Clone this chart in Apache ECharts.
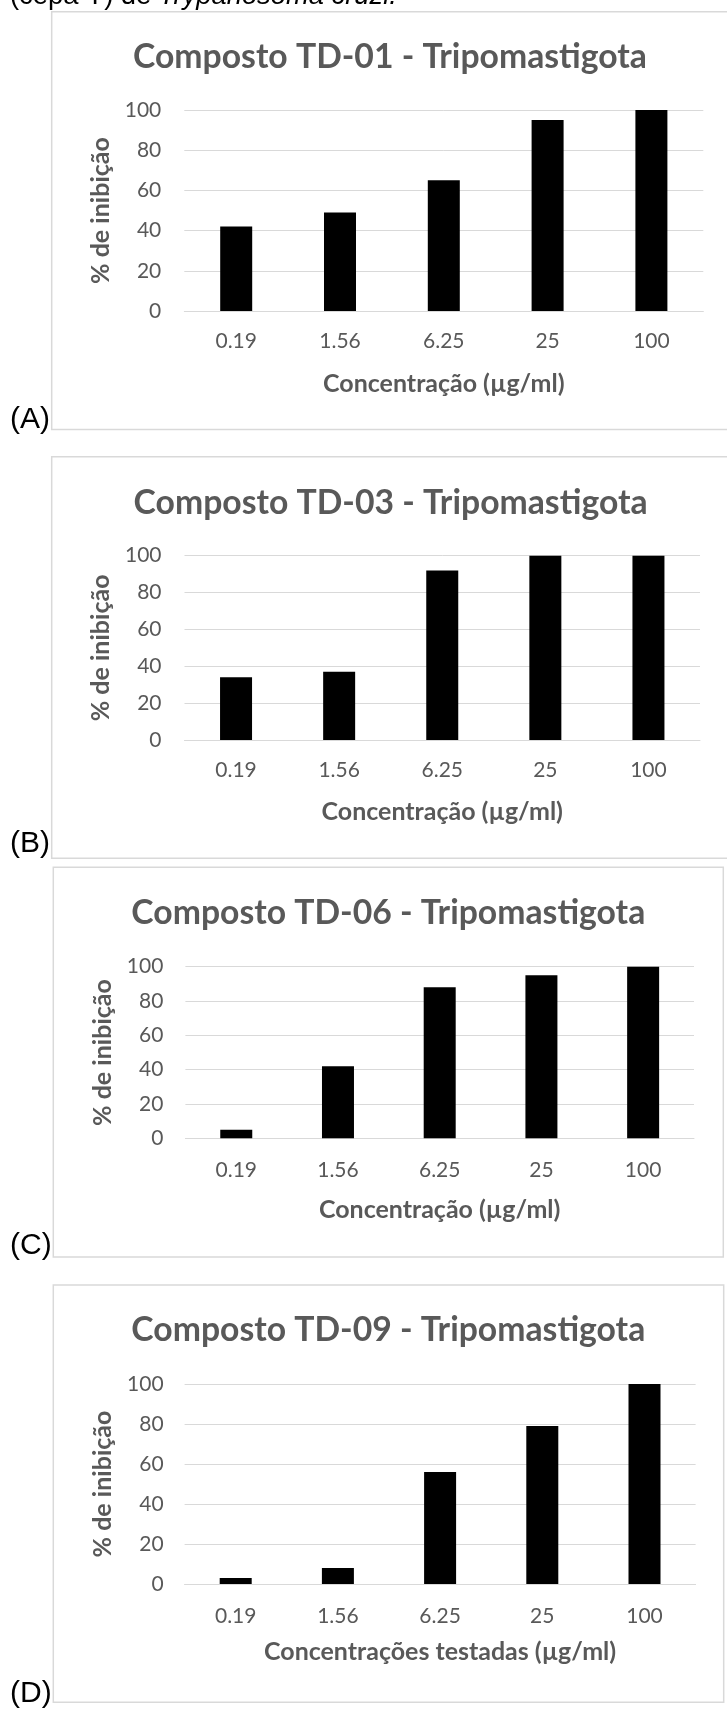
<!DOCTYPE html>
<html>
<head>
<meta charset="utf-8">
<script src="https://cdn.jsdelivr.net/npm/echarts@6/dist/echarts.min.js"></script>
<style>
html,body{margin:0;padding:0;background:#ffffff;}
#c{width:727px;height:1709px;}
</style>
</head>
<body>
<div id="c"></div>
<script>
// ---------- data ----------
const categories = ['0.19', '1.56', '6.25', '25', '100'];
const td01 = [42, 49, 65, 95, 100];
const td03 = [34, 37, 92, 100, 100];
const td06 = [5, 42, 88, 95, 100];
const td09 = [3, 8, 56, 79, 100];
const seriesValues = [td01, td03, td06, td09];
const chartTitles = [
  'Composto TD-01 - Tripomastigota',
  'Composto TD-03 - Tripomastigota',
  'Composto TD-06 - Tripomastigota',
  'Composto TD-09 - Tripomastigota'
];
const xNames = [
  'Concentração (µg/ml)',
  'Concentração (µg/ml)',
  'Concentração (µg/ml)',
  'Concentrações testadas (µg/ml)'
];
const yName = '% de inibição';
const panelLabels = ['(A)', '(B)', '(C)', '(D)'];
const captionNormal = '(cepa Y) de ';
const captionItalic = 'Trypanosoma cruzi.';

// ---------- layout ----------
const panels = [
  {box:[51.7, 11.7, 700, 417.8],  grid:[184.3, 110,   519,   201],   tx:390,   ty:57,     lm:20.2, ng:72.5, ym:23, yc:101, ly:423},
  {box:[51.7, 456.7, 700, 401.6], grid:[184.5, 555.7, 515.5, 184.3], tx:390.6, ty:503,    lm:20.2, ng:71.5, ym:23, yc:101, ly:847},
  {box:[53.3, 867.3, 670, 389.6], grid:[185.4, 966.7, 508.6, 171.6], tx:388.3, ty:913.5,  lm:21.2, ng:71.5, ym:22, yc:103, ly:1249},
  {box:[53.3, 1285, 670.4, 417.3],grid:[184.6, 1384,  511,   200],   tx:388.3, ty:1330,   lm:21.5, ng:68,   ym:21, yc:103, ly:1697}
];

const FONT = 'Lato';
const GRAY = '#595959';
const LIGHT = '#d9d9d9';

const ctx = document.createElement('canvas').getContext('2d');
function widthAt100(font, text) { ctx.font = font; return ctx.measureText(text).width; }
function fit(weight, family, text, target) {
  return 100 * target / widthAt100(weight + ' 100px ' + family, text);
}
const titleSize = fit('bold', FONT, chartTitles[0], 514);
const xNameSize = fit('bold', FONT, xNames[0], 241.5);
const yNameSize = fit('bold', FONT, yName, 147);
const tickSize = 21;
const capW = widthAt100('normal 100px "Liberation Sans"', captionNormal) +
             widthAt100('italic 100px "Liberation Sans"', captionItalic);
const capSize = 100 * 387 / capW;

const option = {
  animation: false,
  backgroundColor: '#ffffff',
  title: [],
  grid: [],
  xAxis: [],
  yAxis: [],
  series: [],
  graphic: []
};

panels.forEach((p, i) => {
  option.graphic.push({
    type: 'rect', z: -10, silent: true,
    shape: {x: p.box[0], y: p.box[1], width: p.box[2], height: p.box[3]},
    style: {fill: '#ffffff', stroke: LIGHT, lineWidth: 1.5}
  });
  option.graphic.push({
    type: 'text', silent: true, x: 10, y: p.ly - 2.8,
    style: {text: panelLabels[i], fontSize: 30, fontFamily: 'Liberation Sans', fill: '#000000',
            align: 'left', verticalAlign: 'middle'}
  });
  option.title.push({
    text: chartTitles[i], left: p.tx, top: p.ty, padding: 0,
    textAlign: 'center', textVerticalAlign: 'middle',
    textStyle: {fontFamily: FONT, fontWeight: 'bold', fontSize: titleSize, color: GRAY}
  });
  option.grid.push({left: p.grid[0], top: p.grid[1], width: p.grid[2], height: p.grid[3], containLabel: false});
  option.xAxis.push({
    type: 'category', gridIndex: i, data: categories,
    axisLine: {show: true, lineStyle: {color: LIGHT, width: 1}},
    axisTick: {show: false},
    axisLabel: {margin: p.lm, fontSize: tickSize, fontFamily: FONT, color: GRAY, interval: 0},
    name: xNames[i], nameLocation: 'middle', nameGap: p.ng - xNameSize / 2,
    nameTextStyle: {fontFamily: FONT, fontWeight: 'bold', fontSize: xNameSize, color: GRAY}
  });
  option.yAxis.push({
    type: 'value', gridIndex: i, min: 0, max: 100, interval: 20,
    axisLine: {show: false}, axisTick: {show: false},
    splitLine: {show: true, lineStyle: {color: LIGHT, width: 1}},
    axisLabel: {margin: p.ym, fontSize: tickSize, fontFamily: FONT, color: GRAY},
    name: yName, nameLocation: 'middle', nameGap: p.grid[0] - p.yc - yNameSize / 2,
    nameTextStyle: {fontFamily: FONT, fontWeight: 'bold', fontSize: yNameSize, color: GRAY}
  });
  option.series.push({
    type: 'bar', xAxisIndex: i, yAxisIndex: i, data: seriesValues[i],
    barWidth: 32, itemStyle: {color: '#000000'}, silent: true
  });
});

option.graphic.push({
  type: 'text', silent: true, x: 10, y: -4,
  style: {
    text: '{n|' + captionNormal + '}{i|' + captionItalic + '}',
    align: 'left', verticalAlign: 'middle',
    rich: {
      n: {fontSize: capSize, fontFamily: 'Liberation Sans', fill: '#000000'},
      i: {fontSize: capSize, fontFamily: 'Liberation Sans', fontStyle: 'italic', fill: '#000000'}
    }
  }
});

const chart = echarts.init(document.getElementById('c'), null, {renderer: 'canvas'});
chart.setOption(option);
</script>
</body>
</html>
